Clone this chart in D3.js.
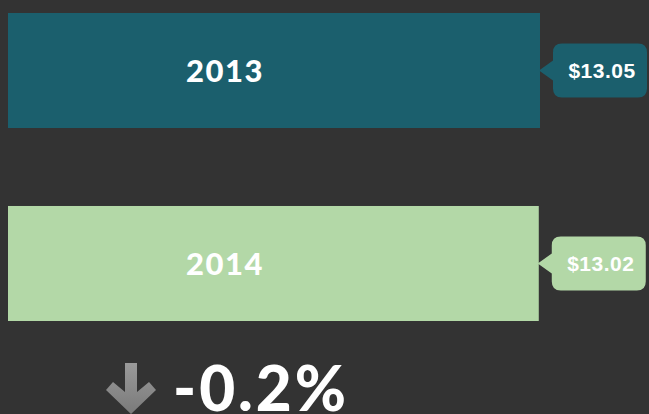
<!DOCTYPE html>
<html>
<head>
<meta charset="utf-8">
<script src="https://cdn.jsdelivr.net/npm/d3@7"></script>
<style>
  html, body { margin: 0; padding: 0; background: #333333; overflow: hidden; }
  svg { display: block; }
</style>
</head>
<body>
<script>
const width = 649;
const height = 414;

// dati
const years = ["2013", "2014"];
const prices = [13.05, 13.02];
const priceLabels = ["$13.05", "$13.02"];
const colors = ["#1b5f6d", "#b3d8a7"];
const changeLabel = "-0.2%";

const svg = d3.select("body").append("svg")
  .attr("width", width)
  .attr("height", height);

// scale
const x = d3.scaleLinear().domain([0, 13.05]).range([8, 540]);
const y = d3.scaleBand().domain(years).range([13, 321]).paddingInner(0.404).paddingOuter(0);

const rows = years.map((yr, i) => ({ year: yr, price: prices[i], label: priceLabels[i], color: colors[i] }));

const g = svg.selectAll("g.row").data(rows).enter().append("g").attr("class", "row");

// barre
g.append("rect")
  .attr("x", x(0))
  .attr("y", d => y(d.year))
  .attr("width", d => x(d.price) - x(0))
  .attr("height", y.bandwidth())
  .attr("fill", d => d.color);

// etichetta anno
g.append("text")
  .attr("x", 225)
  .attr("y", d => y(d.year) + y.bandwidth() / 2)
  .attr("dy", "0.36em")
  .attr("text-anchor", "middle")
  .attr("fill", "#ffffff")
  .attr("font-family", "Lato, sans-serif")
  .attr("font-weight", 900)
  .attr("font-size", 31)
  .attr("letter-spacing", 1.5)
  .text(d => d.year);

// fumetto col prezzo
g.each(function(d) {
  const sel = d3.select(this);
  const cy = y(d.year) + y.bandwidth() / 2;
  const tip = x(d.price) - 1;
  const bx = tip + 14, bw = 94, bh = 54, r = 9;
  const top = cy - bh / 2, bot = cy + bh / 2;
  const p = d3.path();
  p.moveTo(tip, cy);
  p.lineTo(bx, cy - 10);
  p.lineTo(bx, top + r);
  p.quadraticCurveTo(bx, top, bx + r, top);
  p.lineTo(bx + bw - r, top);
  p.quadraticCurveTo(bx + bw, top, bx + bw, top + r);
  p.lineTo(bx + bw, bot - r);
  p.quadraticCurveTo(bx + bw, bot, bx + bw - r, bot);
  p.lineTo(bx + r, bot);
  p.quadraticCurveTo(bx, bot, bx, bot - r);
  p.lineTo(bx, cy + 10);
  p.closePath();
  sel.append("path").attr("d", p.toString()).attr("fill", d.color);
  sel.append("text")
    .attr("x", bx + bw / 2 + 2)
    .attr("y", cy)
    .attr("dy", "0.36em")
    .attr("text-anchor", "middle")
    .attr("fill", "#ffffff")
    .attr("font-family", "Liberation Sans, Arial, sans-serif")
    .attr("font-weight", "bold")
    .attr("font-size", 21)
    .attr("letter-spacing", 0.5)
    .text(d.label);
});

// freccia in giu
const grad = svg.append("defs").append("linearGradient")
  .attr("id", "arrowGrad").attr("x1", 0).attr("y1", 0).attr("x2", 0).attr("y2", 1);
grad.append("stop").attr("offset", "0%").attr("stop-color", "#9a9a9a");
grad.append("stop").attr("offset", "100%").attr("stop-color", "#7a7a7a");

svg.append("path")
  .attr("d", "M125,363 L137,363 L137,392 L149,382 L156,390 L131,414 L106,390 L113,382 L125,392 Z")
  .attr("fill", "url(#arrowGrad)");

svg.append("text")
  .attr("x", 173)
  .attr("y", 411)
  .attr("fill", "#ffffff")
  .attr("font-family", "Lato, sans-serif")
  .attr("font-weight", 900)
  .attr("font-size", 62)
  .attr("letter-spacing", 3)
  .text(changeLabel);
</script>
</body>
</html>
